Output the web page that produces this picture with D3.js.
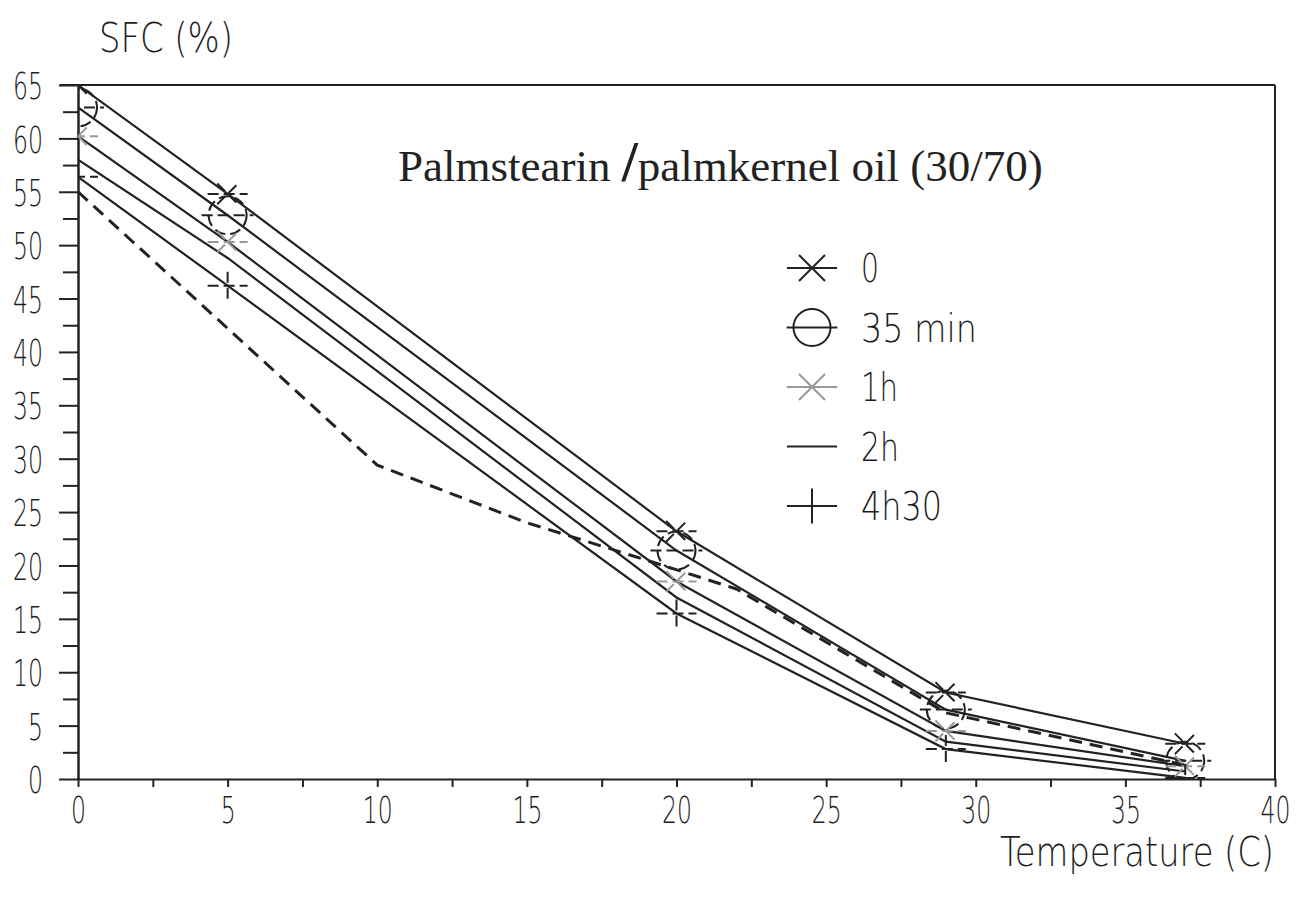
<!DOCTYPE html>
<html>
<head>
<meta charset="utf-8">
<script src="https://cdn.jsdelivr.net/npm/d3@7"></script>
<style>
  body { margin: 0; background: #fff; }
  .lbl { font-family: "DejaVu Sans", sans-serif; font-weight: 200; fill: #1e1e1e; }
</style>
</head>
<body>
<div id="chart"></div>
<script>
// temperatures where the samples were measured
const temps = [0, 5, 20, 29, 37];
// SFC values per holding time
const sfc0 = [65, 54.8, 23.2, 8.1, 3.3];
const sfc35min = [62.9, 52.8, 21.4, 6.5, 1.7];
const sfc1h = [60.2, 50.3, 18.5, 4.5, 1.2];
const sfc2h = [58.0, 48.8, 17.0, 3.5, 0.7];
const sfc4h30 = [56.4, 46.2, 15.5, 2.8, 0.1];
// dashed curve without markers
const dashTemps = [0, 10, 15, 19, 22, 29, 37];
const dashSfc = [55, 29.4, 24, 20.5, 17.8, 6.2, 1.3];

const legendLabels = ['0', '35 min', '1h', '2h', '4h30'];
const legendWidths = [18, 116, 37, 38, 81];
const markerTypes = ['star', 'circle', 'fadedstar', 'dash', 'plus'];
const xTicks = d3.range(0, 40.1, 2.5);
const yTicks = d3.range(0, 65.1, 2.5);

const w = 1296,
  h = 909;
const x = d3.scaleLinear().domain([0, 40]).range([78, 1275]);
const y = d3.scaleLinear().domain([0, 65]).range([779, 85]);
const ink = '#222';

const svg = d3
  .select('#chart')
  .append('svg')
  .attr('width', w)
  .attr('height', h);

svg
  .append('clipPath')
  .attr('id', 'plot-clip')
  .append('rect')
  .attr('x', x(0))
  .attr('y', y(65))
  .attr('width', x(40) - x(0))
  .attr('height', y(0) - y(65));

// squeeze a text horizontally to a given width (narrow technical lettering)
function squeeze(sel, widthOf) {
  sel.each(function (d, i) {
    const n = this.getComputedTextLength();
    if (!n) return;
    const s = widthOf(this.textContent, i) / n;
    const x0 = +this.getAttribute('x') || 0;
    const y0 = +this.getAttribute('y') || 0;
    this.setAttribute('x', 0);
    this.setAttribute('y', 0);
    this.setAttribute('transform', `translate(${x0},${y0}) scale(${s},1)`);
  });
}

// y axis: minor ticks then major ticks with labels
svg
  .append('g')
  .attr('transform', `translate(${x(0)},0)`)
  .call(
    d3.axisLeft(y).tickValues(yTicks.filter((d) => d % 5 !== 0)).tickSize(15).tickSizeOuter(0).tickFormat('')
  );
const yAxis = svg
  .append('g')
  .attr('transform', `translate(${x(0)},0)`)
  .call(
    d3.axisLeft(y).tickValues(yTicks.filter((d) => d % 5 === 0)).tickSize(19).tickSizeOuter(0).tickPadding(16)
  );
yAxis.selectAll('text').attr('class', 'lbl').style('font-size', '38px').attr('dy', '0.36em')
  .call(squeeze, (t) => t.length * 15);

// x axis
const xAxis = svg
  .append('g')
  .attr('transform', `translate(0,${y(0)})`)
  .call(
    d3.axisBottom(x).tickValues(xTicks).tickSize(8).tickSizeOuter(0).tickPadding(9)
      .tickFormat((d) => (d % 5 === 0 ? d : ''))
  );
xAxis.selectAll('text').attr('class', 'lbl').style('font-size', '38px')
  .call(squeeze, (t) => t.length * 15);

svg.selectAll('.domain, .tick line').attr('stroke', ink).attr('stroke-width', 2);

// frame top and right
svg.append('line').attr('x1', 60).attr('x2', x(40)).attr('y1', y(65)).attr('y2', y(65))
  .attr('stroke', ink).attr('stroke-width', 2);
svg.append('line').attr('x1', x(40)).attr('x2', x(40)).attr('y1', y(65)).attr('y2', y(0))
  .attr('stroke', ink).attr('stroke-width', 2);

// axis titles
svg.append('text').attr('x', 99).attr('y', 52).text('SFC (%)')
  .attr('class', 'lbl').style('font-size', '41px')
  .call(squeeze, () => 134);
svg.append('text').attr('x', 1000).attr('y', 866).text('Temperature (C)')
  .attr('class', 'lbl').style('font-size', '41px')
  .call(squeeze, () => 274);

// chart title
const title = svg.append('text').attr('x', 398).attr('y', 181)
  .style('font-family', '"Liberation Serif", serif').style('font-size', '45px').attr('fill', '#222');
title.append('tspan').text('Palmstearin ');
title.append('tspan').text('/').style('font-size', '58px').style('font-weight', 'bold');
title.append('tspan').text('palmkernel oil (30/70)');

const series = [sfc0, sfc35min, sfc1h, sfc2h, sfc4h30];

const line = d3.line().x((d) => x(d[0])).y((d) => y(d[1]));

const plot = svg.append('g').attr('clip-path', 'url(#plot-clip)');

plot.selectAll('.series')
  .data(series)
  .join('path')
  .attr('class', 'series')
  .attr('d', (s) => line(temps.map((t, i) => [t, s[i]])))
  .attr('fill', 'none')
  .attr('stroke', ink)
  .attr('stroke-width', 2.2);

plot.append('path')
  .attr('d', line(dashTemps.map((t, i) => [t, dashSfc[i]])))
  .attr('fill', 'none')
  .attr('stroke', ink)
  .attr('stroke-width', 3)
  .attr('stroke-dasharray', '13 8');

// marker shapes, centred on 0,0
function markerPath(type, s) {
  const p = d3.path();
  if (type === 'star' || type === 'fadedstar') {
    const d = s * 0.52;
    p.moveTo(-s, 0); p.lineTo(s, 0);
    p.moveTo(-d, -d); p.lineTo(d, d);
    p.moveTo(-d, d); p.lineTo(d, -d);
  } else if (type === 'circle') {
    p.moveTo(-s * 1.3, 0); p.lineTo(s * 1.3, 0);
    p.moveTo(s * 0.95, 0); p.arc(0, 0, s * 0.95, 0, 2 * Math.PI);
  } else if (type === 'dash') {
    p.moveTo(-s, 0); p.lineTo(s, 0);
  } else {
    p.moveTo(-s, 0); p.lineTo(s, 0);
    p.moveTo(0, -s * 0.7); p.lineTo(0, s * 0.7);
  }
  return p.toString();
}

function markerStyle(sel, type) {
  sel.attr('fill', 'none')
    .attr('stroke', type === 'fadedstar' ? '#999' : ink)
    .attr('stroke-width', 2);
}

// chart markers (the 2h series has none visible on the curve)
series.forEach((s, k) => {
  const type = markerTypes[k];
  if (type === 'dash') return;
  plot.selectAll('.m' + k)
    .data(temps.map((t, i) => [t, s[i]]))
    .join('path')
    .attr('class', 'm' + k)
    .attr('transform', (d) => `translate(${x(d[0])},${y(d[1])})`)
    .attr('d', markerPath(type, 20))
    .call(markerStyle, type)
    .attr('stroke-dasharray', '11 5');
});

// legend
const legend = svg.append('g').attr('transform', 'translate(812,268)');
legendLabels.forEach((lab, k) => {
  const g = legend.append('g').attr('transform', `translate(0,${k * 59.5})`);
  g.append('path').attr('d', markerPath(markerTypes[k], markerTypes[k] === 'circle' ? 19.5 : 25))
    .call(markerStyle, markerTypes[k]);
  g.append('text').attr('x', 49).attr('y', 14).text(lab)
    .attr('class', 'lbl').style('font-size', '39px')
    .call(squeeze, () => legendWidths[k]);
});
</script>
</body>
</html>
